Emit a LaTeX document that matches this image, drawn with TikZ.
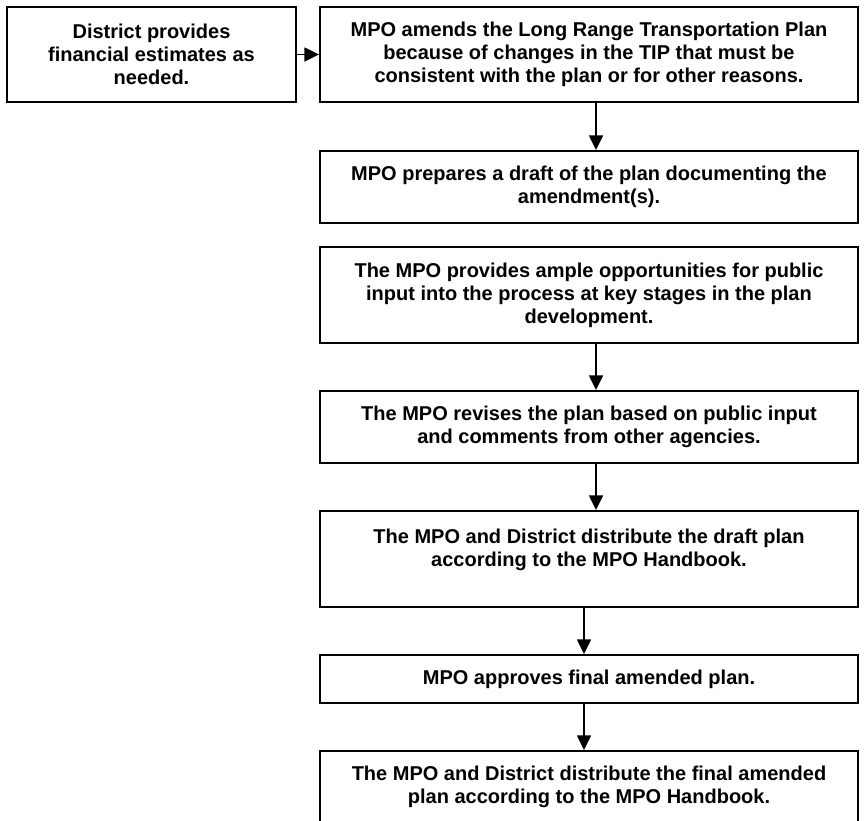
\documentclass[tikz,border=0pt]{standalone}
\usepackage{fontspec}
\setmainfont{Liberation Sans}
\usetikzlibrary{arrows.meta}
\tikzset{
  stage/.style={draw, line width=1.5pt, inner sep=0pt, align=center,
    minimum width=403.5pt, font=\bfseries\fontsize{15pt}{17.25pt}\selectfont},
  flow/.style={->, line width=1.1pt},
}
\begin{document}
\begin{tikzpicture}[x=0.75pt, y=-0.75pt, >={Triangle[length=11pt,width=10.5pt]}]
      \useasboundingbox (0,0) rectangle (864,821);
      \clip (0,0) rectangle (864,821);

      \node[stage, minimum width=216.75pt, minimum height=71.25pt] (district) at (151.5,54.5)
        {District provides\\financial estimates as\\needed.};
      \node[stage, minimum height=71.25pt] (amend) at (589,54.5)
        {MPO amends the Long Range Transportation Plan\\because of changes in the TIP that must be\\consistent with the plan or for other reasons.};
      \node[stage, minimum height=54pt] (draft) at (589,187)
        {MPO prepares a draft of the plan documenting the\\amendment(s).};
      \node[stage, minimum height=72pt] (public) at (589,295)
        {The MPO provides ample opportunities for public\\input into the process at key stages in the plan\\development.};
      \node[stage, minimum height=54pt] (revise) at (589,427)
        {The MPO revises the plan based on public input\\and comments from other agencies.};
      \node[stage, minimum height=72pt] (distdraft) at (589,559)
        {The MPO and District distribute the draft plan\\according to the MPO Handbook.\\\mbox{}};
      \node[stage, minimum height=36pt] (approve) at (589,679)
        {MPO approves final amended plan.};
      \node[stage, minimum height=54pt] (distfinal) at (589,787)
        {The MPO and District distribute the final amended\\plan according to the MPO Handbook.};

      \draw[flow] (district) -- (amend);
      \draw[flow] ([xshift=5.25pt]amend.south) -- ([xshift=5.25pt]draft.north);
      \draw[flow] ([xshift=5.25pt]public.south) -- ([xshift=5.25pt]revise.north);
      \draw[flow] ([xshift=5.25pt]revise.south) -- ([xshift=5.25pt]distdraft.north);
      \draw[flow] ([xshift=-3.75pt]distdraft.south) -- ([xshift=-3.75pt]approve.north);
      \draw[flow] ([xshift=-3.75pt]approve.south) -- ([xshift=-3.75pt]distfinal.north);
\end{tikzpicture}
\end{document}
